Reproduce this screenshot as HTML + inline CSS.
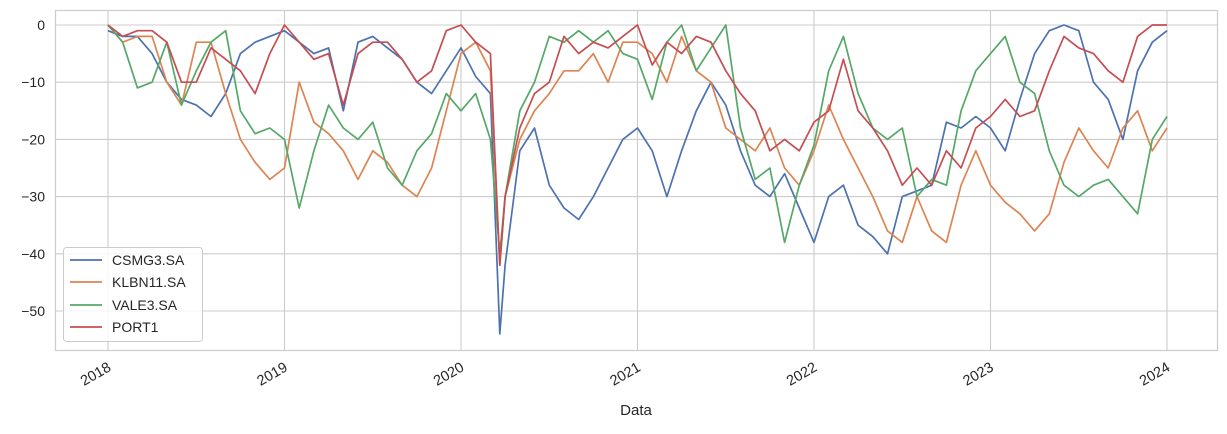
<!DOCTYPE html>
<html><head><meta charset="utf-8">
<style>
html,body{margin:0;padding:0;background:#fff;}
svg text{font-family:"Liberation Sans","DejaVu Sans",sans-serif;fill:#262626;}
</style></head>
<body>
<svg id="chart" width="1227" height="429" xmlns="http://www.w3.org/2000/svg">
<g id="grid"></g>
<g id="series"></g>
<rect x="55.5" y="10.5" width="1162" height="340" fill="none" stroke="#cccccc" stroke-width="1.2"/>
<g id="axes"></g>
<text x="636" y="415" font-size="15" text-anchor="middle">Data</text>
<g>
<rect x="63.5" y="247.5" width="139" height="94" rx="3" fill="#fff" fill-opacity="0.8" stroke="#cccccc"/>
<g><line x1="70" y1="260" x2="102" y2="260" stroke="#4c72b0" stroke-width="1.8"/><text x="112" y="265" font-size="14">CSMG3.SA</text></g>
<g><line x1="70" y1="282" x2="102" y2="282" stroke="#dd8452" stroke-width="1.8"/><text x="112" y="287" font-size="14">KLBN11.SA</text></g>
<g><line x1="70" y1="305" x2="102" y2="305" stroke="#55a868" stroke-width="1.8"/><text x="112" y="310" font-size="14">VALE3.SA</text></g>
<g><line x1="70" y1="327" x2="102" y2="327" stroke="#c44e52" stroke-width="1.8"/><text x="112" y="332" font-size="14">PORT1</text></g>
</g>
</svg>
<script>
var yTicks=[0,-10,-20,-30,-40,-50];
var xTicks=[2018,2019,2020,2021,2022,2023,2024];
var crashDate=2020.22;
var csmg3=[-1,-2,-2,-5,-10,-13,-14,-16,-12,-5,-3,-2,
-1,-3,-5,-4,-15,-3,-2,-4,-6,-10,-12,-8,
-4,-9,-12,-54,-42,-22,-18,-28,-32,-34,-30,-25,-20,
-18,-22,-30,-22,-15,-10,-14,-22,-28,-30,-26,-32,
-38,-30,-28,-35,-37,-40,-30,-29,-28,-17,-18,-16,
-18,-22,-13,-5,-1,0,-1,-10,-13,-20,-8,-3,-1];
var klbn11=[0,-3,-2,-2,-10,-14,-3,-3,-12,-20,-24,-27,
-25,-10,-17,-19,-22,-27,-22,-24,-28,-30,-25,-15,
-5,-3,-8,-42,-30,-20,-15,-12,-8,-8,-5,-10,-3,
-3,-5,-10,-2,-8,-10,-18,-20,-22,-18,-25,-28,
-22,-14,-20,-25,-30,-36,-38,-30,-36,-38,-28,-22,
-28,-31,-33,-36,-33,-24,-18,-22,-25,-18,-15,-22,-18];
var vale3=[0,-3,-11,-10,-3,-14,-8,-3,-1,-15,-19,-18,
-20,-32,-22,-14,-18,-20,-17,-25,-28,-22,-19,-12,
-15,-12,-20,-40,-30,-15,-10,-2,-3,-1,-3,-1,-5,
-6,-13,-3,0,-8,-4,0,-18,-27,-25,-38,-28,
-21,-8,-2,-12,-18,-20,-18,-30,-27,-28,-15,-8,
-5,-2,-10,-12,-22,-28,-30,-28,-27,-30,-33,-20,-16];
var port1=[0,-2,-1,-1,-3,-10,-10,-4,-6,-8,-12,-5,
0,-3,-6,-5,-14,-5,-3,-3,-6,-10,-8,-1,
0,-3,-5,-42,-30,-18,-12,-10,-2,-5,-3,-4,-2,
0,-7,-3,-5,-2,-3,-8,-12,-15,-22,-20,-22,
-17,-15,-6,-15,-18,-22,-28,-25,-28,-22,-25,-18,
-16,-13,-16,-15,-8,-2,-4,-5,-8,-10,-2,0,0];
var dates=[];
for(var i=0;i<=72;i++){dates.push(2018+i/12);if(i===26)dates.push(crashDate);}
var L=55.5,R=1217.5,T=10.5,B=350.5;
function xs(t){return 108+(t-2018)*176.5;}
function ys(v){return 25+(0-v)*5.72;}
var NS='http://www.w3.org/2000/svg';
var grid=document.getElementById('grid'),axes=document.getElementById('axes'),ser=document.getElementById('series');
yTicks.forEach(function(v){
 var l=document.createElementNS(NS,'line');
 
 
 l.setAttribute('x1',L);l.setAttribute('x2',R);l.setAttribute('y1',ys(v));l.setAttribute('y2',ys(v));
 l.setAttribute('stroke','#cccccc');l.setAttribute('stroke-width','1.1');grid.appendChild(l);
 var t=document.createElementNS(NS,'text');
 
 
 t.setAttribute('x',45);t.setAttribute('y',ys(v)+5);t.setAttribute('text-anchor','end');t.setAttribute('font-size','14');
 t.textContent=(v<0?'\u2212'+(-v):String(v));axes.appendChild(t);
});
xTicks.forEach(function(yr){
 var x=xs(yr);
 var l=document.createElementNS(NS,'line');
 
 
 l.setAttribute('x1',x);l.setAttribute('x2',x);l.setAttribute('y1',T);l.setAttribute('y2',B);
 l.setAttribute('stroke','#cccccc');l.setAttribute('stroke-width','1.1');grid.appendChild(l);
 var t=document.createElementNS(NS,'text');
 
 
 t.setAttribute('x',x+4);t.setAttribute('y',370);t.setAttribute('text-anchor','end');t.setAttribute('font-size','14.5');
 t.setAttribute('transform','rotate(-30 '+(x+4)+' 370)');
 t.textContent=String(yr);axes.appendChild(t);
});
var list=[['csmg3-line',csmg3,'#4c72b0'],['klbn11-line',klbn11,'#dd8452'],['vale3-line',vale3,'#55a868'],['port1-line',port1,'#c44e52']];
list.forEach(function(s){
 var d='';
 for(var i=0;i<dates.length;i++){d+=(i?'L':'M')+xs(dates[i]).toFixed(1)+','+ys(s[1][i]).toFixed(1);}
 var p=document.createElementNS(NS,'path');
 
 
 p.setAttribute('d',d);p.setAttribute('fill','none');p.setAttribute('stroke',s[2]);p.setAttribute('stroke-width','1.7');
 p.setAttribute('stroke-linejoin','round');ser.appendChild(p);
});
</script>
</body></html>
